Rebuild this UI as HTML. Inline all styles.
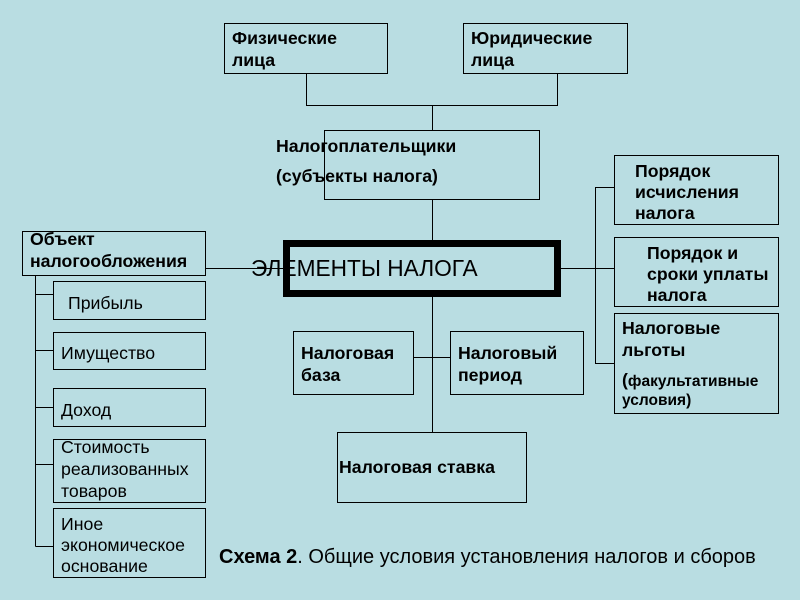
<!DOCTYPE html>
<html><head><meta charset="utf-8"><style>
html,body{margin:0;padding:0;background:#b9dde2;width:800px;height:600px;overflow:hidden}
svg{display:block}
text{font-family:"Liberation Sans",sans-serif;font-size:17.7px;fill:#000}
.b{font-weight:bold}
rect{fill:none;stroke:#000;stroke-width:1}
path{fill:none;stroke:#000;stroke-width:1}
</style></head><body>
<svg width="800" height="600" viewBox="0 0 800 600">
<rect x="0" y="0" width="800" height="600" style="fill:#b9dde2;stroke:none"/>
<path d="M306.5 73V105.5H557.5V73M432.5 105V130M432.5 199V240M432.5 297V432M205 268.5H283M561 268.5H614M35.5 275V546.5M35.5 294.5H53M35.5 350.5H53M35.5 407.5H53M35.5 464.5H53M35.5 546.5H53M614 187.5H595.5V363.5H614M413 357.5H450"/>
<rect x="224.5" y="23.5" width="163" height="50"/>
<rect x="463.5" y="23.5" width="164" height="50"/>
<rect x="324.5" y="130.5" width="215" height="69"/>
<rect x="286.5" y="243.5" width="271" height="50" style="stroke-width:7"/>
<rect x="22.5" y="231.5" width="183" height="44"/>
<rect x="53.5" y="281.5" width="152" height="38"/>
<rect x="53.5" y="332.5" width="152" height="37"/>
<rect x="53.5" y="388.5" width="152" height="38"/>
<rect x="53.5" y="439.5" width="152" height="63"/>
<rect x="53.5" y="508.5" width="152" height="69"/>
<rect x="614.5" y="155.5" width="164" height="69"/>
<rect x="614.5" y="237.5" width="164" height="69"/>
<rect x="614.5" y="313.5" width="164" height="100"/>
<rect x="293.5" y="331.5" width="120" height="63"/>
<rect x="450.5" y="331.5" width="133" height="63"/>
<rect x="337.5" y="432.5" width="189" height="70"/>

<text class="b" x="232" y="44">Физические</text>
<text class="b" x="232" y="66">лица</text>
<text class="b" x="471" y="44">Юридические</text>
<text class="b" x="471" y="66">лица</text>
<text class="b" x="276" y="152">Налогоплательщики</text>
<text class="b" x="276" y="182">(субъекты налога)</text>
<text x="251" y="276" style="font-size:22.7px">ЭЛЕМЕНТЫ НАЛОГА</text>
<text class="b" x="30" y="245">Объект</text>
<text class="b" x="30" y="267">налогообложения</text>
<text x="68" y="309">Прибыль</text>
<text x="61" y="359">Имущество</text>
<text x="61" y="416">Доход</text>
<text x="61" y="453">Стоимость</text>
<text x="61" y="475">реализованных</text>
<text x="61" y="497">товаров</text>
<text x="61" y="530">Иное</text>
<text x="61" y="551">экономическое</text>
<text x="61" y="572">основание</text>
<text class="b" x="635" y="177">Порядок</text>
<text class="b" x="635" y="198">исчисления</text>
<text class="b" x="635" y="219">налога</text>
<text class="b" x="647" y="259">Порядок и</text>
<text class="b" x="647" y="280">сроки уплаты</text>
<text class="b" x="647" y="301">налога</text>
<text class="b" x="622" y="334">Налоговые</text>
<text class="b" x="622" y="356">льготы</text>
<text class="b" x="622" y="386"><tspan>(</tspan><tspan style="font-size:15.5px">факультативные</tspan></text>
<text class="b" x="622" y="405" style="font-size:15.5px">условия)</text>
<text class="b" x="301" y="359">Налоговая</text>
<text class="b" x="301" y="381">база</text>
<text class="b" x="458" y="359">Налоговый</text>
<text class="b" x="458" y="381">период</text>
<text class="b" x="339" y="473">Налоговая ставка</text>
<text x="219" y="563" style="font-size:20px"><tspan class="b">Схема 2</tspan>. Общие условия установления налогов и сборов</text>
</svg>
</body></html>
